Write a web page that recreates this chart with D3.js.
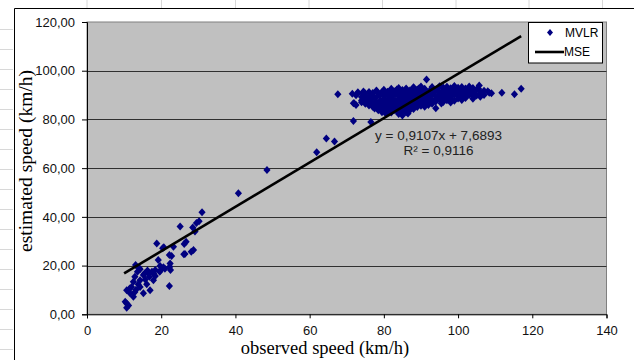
<!DOCTYPE html>
<html><head><meta charset="utf-8">
<script src="https://cdn.jsdelivr.net/npm/d3@7"></script>
<style>body{margin:0;background:#fff;}</style>
</head><body>
<svg id="c" width="634" height="360"></svg>
<script>
// ---- data ----
const xTicks = [0, 20, 40, 60, 80, 100, 120, 140];
const yTicks = [0, 20, 40, 60, 80, 100, 120];
const yTickLabels = ["0,00", "20,00", "40,00", "60,00", "80,00", "100,00", "120,00"];
const xTitle = "observed speed (km/h)";
const yTitle = "estimated speed (km/h)";
const seriesNames = ["MVLR", "MSE"];
const trendSlope = 0.9107;
const trendIntercept = 7.6893;
const trendRange = [10, 117];
const equationLines = ["y = 0,9107x + 7,6893", "R\u00B2 = 0,9116"];

// low speed cluster [observed, estimated]
const lowSpeedPoints = [
  [10.7,2.7],[11.2,3.6],[10.7,4.4],[10.3,5.2],[12.5,7.2],[11.6,8.6],[12.9,9.2],[10.7,9.9],
  [15.2,8.6],[17.0,9.9],[12.0,11.2],[14.3,11.2],[13.8,12.3],[16.1,12.3],[12.5,13.4],[14.3,14.0],
  [15.7,14.3],[17.9,14.0],[12.9,15.4],[16.8,15.4],[18.4,15.7],[15.2,16.1],[16.6,16.8],[15.5,16.8],
  [13.6,17.5],[17.5,17.5],[19.6,17.5],[19.7,17.9],[18.4,18.2],[14.3,18.5],[14.1,18.9],[22.5,18.2],
  [20.6,19.3],[22.3,19.5],[19.7,19.8],[13.1,20.2],[22.4,20.9],[19.2,22.3],[22.2,11.6],[22.8,23.9],
  [22.2,24.3],[26.4,24.8],[26.1,24.7],[28.1,25.7],[28.7,26.4],[20.4,27.1],[20.7,27.5],[23.3,27.7],
  [18.8,29.1],[26.2,28.9],[26.7,29.8],[29.1,34.0],[28.5,35.6],[25.1,36.0],[29.5,37.5],[30.2,38.2],
  [31.0,41.9],[11.5,10.6],[13.2,10.1],[16.3,18.0],[21.0,18.7],[18.0,16.6]
];
// transition points
const midSpeedPoints = [
  [40.8,49.7],[48.5,59.2],[61.9,66.5],[64.5,72.2],[66.7,70.9],[71.8,79.4],[76.5,78.9],[67.6,90.3],[71.8,86.6]
];
// high speed cluster
const highSpeedPoints = [
  [88,93.2],[90,93.5],[93,93.3],[95,93.6],[97,93.4],[99,93.7],[101,93.3],[103,93.5],[105.7,93.9],
  [82,92.6],[84,92.9],[86,92.7],[88,93.0],[89.5,92.8],[91,92.6],[93,92.9],[94.5,92.7],[96,93.1],[98,92.8],[100,93.0],[102,92.7],[104,92.9],[105.5,92.6],
  [78,91.9],[80,92.2],[82,92.0],[83.5,92.3],[85,92.1],[87,91.9],[89,92.3],[91,92.1],[92.5,91.8],[94,92.2],[96,92.0],[97.5,92.3],[99,91.9],[101,92.2],[103,92.0],[105,92.3],[107,91.8],
  [73,91.2],[74.5,91.5],[76,91.3],[78,91.6],[79.5,91.2],[81,91.4],[83,91.6],[85,91.3],[86.5,91.5],[88,91.2],[90,91.6],[92,91.3],[93.5,91.5],[95,91.2],[97,91.4],[99,91.6],[100.5,91.3],[102,91.5],[104,91.2],[106,91.4],[108,91.6],
  [71.5,90.5],[73,90.8],[75,90.6],[77,90.9],[79,90.5],[80.5,90.7],[82,90.9],[84,90.6],[86,90.8],[88,90.5],[89.5,90.9],[91,90.6],[93,90.8],[95,90.5],[96.5,90.7],[98,90.9],[100,90.6],[102,90.8],[104,90.5],[106,90.7],[109,90.8],
  [72.5,89.9],[74.5,90.2],[77,89.8],[79,90.1],[81,89.9],[83,90.2],[85,90.0],[87,89.8],[89,90.1],[91,89.9],[93,90.2],[95,89.8],[97,90.0],[99,90.2],[101,89.9],[103,90.1],[105,89.8],[107,90.0],
  [74,89.2],[76,89.5],[78,89.1],[80,89.4],[82,89.2],[84,89.5],[86,89.3],[88,89.1],[90,89.4],[92,89.2],[94,89.5],[96,89.3],[98,89.1],[100,89.4],[102,89.2],[104,89.5],[106,89.3],
  [75,88.5],[77.5,88.8],[80,88.4],[82,88.7],[84,88.5],[86,88.8],[88,88.4],[90,88.6],[92,88.8],[94,88.5],[96,88.7],[98,88.4],[100,88.6],[102,88.8],[104,88.5],
  [74,87.8],[76.5,88.1],[79,87.7],[81,88.0],[83,87.8],[85,88.1],[87,87.9],[89,87.7],[91,88.0],[93,87.8],[95,88.1],[97,87.9],[99,87.7],[101,88.0],
  [74,87.1],[75.5,87.4],[78,87.0],[80,87.3],[82,87.1],[84,87.4],[86,87.2],[88,87.0],[90,87.3],[92,87.1],[94,87.4],[96,87.2],[98,87.0],
  [72,86.6],[75,86.4],[77,86.7],[79,86.3],[81,86.6],[83,86.4],[85,86.7],[87,86.5],[89,86.3],[91,86.6],[93,86.4],[95.5,86.5],
  [72.5,85.9],[76,85.7],[78,86.0],[80,85.6],[82,85.9],[84,85.7],[86,86.0],[88,85.8],[90,85.6],[92,85.9],
  [77,85.2],[79,84.9],[81,85.2],[83,85.0],[85,85.3],[87,84.9],[89,85.1],[91,85.2],
  [77.5,84.5],[80,84.2],[82,84.5],[84,84.3],[86,84.6],[88,84.3],[94,84.6],
  [78.5,83.8],[81,83.5],[83,83.8],[85,83.6],[87,83.8],
  [79.5,83.0],[82,82.8],[84,83.1],[86,82.9],
  [80.5,82.4],[84,82.2],[86.5,82.4],[85,81.6],
  [91.5,96.4],[108.4,91.0],[111.8,91.0],[115.2,90.3],[117.0,92.6]
];

// ---- drawing ----
const svg = d3.select("#c");
const W = 634, H = 360;
const x = d3.scaleLinear().domain([0, 140]).range([87, 606.5]);
const y = d3.scaleLinear().domain([0, 120]).range([314.3, 22]);

// worksheet cell lines outside the chart
const sheetCols = [87, 161.5, 235.5, 309, 382.5, 456, 529, 602.5];
svg.selectAll(".col").data(sheetCols).enter().append("line")
  .attr("x1", d => d).attr("x2", d => d).attr("y1", 0).attr("y2", 8)
  .attr("stroke", "#d8d8d8").attr("stroke-width", 1);
const sheetRows = d3.range(29.5, H, 20);
svg.selectAll(".row").data(sheetRows).enter().append("line")
  .attr("x1", 0).attr("x2", 13).attr("y1", d => d).attr("y2", d => d)
  .attr("stroke", "#d8d8d8").attr("stroke-width", 1);

// chart frame
svg.append("path").attr("d", `M14.5,${H}V8.5H${W}`)
  .attr("fill", "none").attr("stroke", "#000").attr("stroke-width", 1);

// plot area
svg.append("rect").attr("x", x(0)).attr("y", y(120))
  .attr("width", x(140) - x(0)).attr("height", y(0) - y(120))
  .attr("fill", "#c0c0c0").attr("stroke", "#808080").attr("stroke-width", 1);

// gridlines
svg.append("g").selectAll("line").data(yTicks.filter(t => t > 0 && t < 120)).enter().append("line")
  .attr("x1", x(0)).attr("x2", x(140))
  .attr("y1", d => Math.round(y(d)) + 0.5).attr("y2", d => Math.round(y(d)) + 0.5)
  .attr("stroke", "#303030").attr("stroke-width", 1);

// axes
const fontSans = "'Liberation Sans', Arial, sans-serif";
const yAxis = svg.append("g").attr("transform", `translate(${x(0)},0)`)
  .call(d3.axisLeft(y).tickValues(yTicks).tickSize(5).tickPadding(7)
    .tickFormat((d, i) => yTickLabels[i]));
const xAxis = svg.append("g").attr("transform", `translate(0,${y(0)})`)
  .call(d3.axisBottom(x).tickValues(xTicks).tickSize(4).tickPadding(7)
    .tickFormat(d => String(d)));
[yAxis, xAxis].forEach(g => {
  g.select(".domain").attr("stroke", "#000");
  g.selectAll(".tick line").attr("stroke", "#000");
  g.selectAll("text").attr("font-family", fontSans).attr("font-size", "13px").attr("fill", "#111");
});

// axis titles
const fontSerif = "'Liberation Serif', 'Times New Roman', serif";
svg.append("text").attr("x", 325).attr("y", 354).attr("text-anchor", "middle")
  .attr("font-family", fontSerif).attr("font-size", "18.5px").attr("fill", "#000").text(xTitle);
svg.append("text").attr("transform", "translate(32,161) rotate(-90)").attr("text-anchor", "middle")
  .attr("font-family", fontSerif).attr("font-size", "19.5px").attr("fill", "#000").text(yTitle);

// scatter points
const diamond = "M0,-4L3.6,0L0,4L-3.6,0Z";
const allPoints = lowSpeedPoints.concat(midSpeedPoints, highSpeedPoints);
svg.append("g").selectAll("path").data(allPoints).enter().append("path")
  .attr("d", diamond)
  .attr("transform", d => `translate(${x(d[0])},${y(d[1])})`)
  .attr("fill", "#000080");

// trend line (MSE)
svg.append("line")
  .attr("x1", x(trendRange[0])).attr("y1", y(trendSlope * trendRange[0] + trendIntercept))
  .attr("x2", x(trendRange[1])).attr("y2", y(trendSlope * trendRange[1] + trendIntercept))
  .attr("stroke", "#000").attr("stroke-width", 2.6);

// equation
svg.append("text").attr("x", 438.5).attr("y", 139.8).attr("text-anchor", "middle")
  .attr("font-family", fontSans).attr("font-size", "13.5px").attr("fill", "#222").text(equationLines[0]);
svg.append("text").attr("x", 438.5).attr("y", 155).attr("text-anchor", "middle")
  .attr("font-family", fontSans).attr("font-size", "13.5px").attr("fill", "#222").text(equationLines[1]);

// legend
const lg = svg.append("g");
lg.append("rect").attr("x", 528.5).attr("y", 22.5).attr("width", 74).attr("height", 40.5)
  .attr("fill", "#fff").attr("stroke", "#000").attr("stroke-width", 1);
lg.append("path").attr("d", "M0,-3.5L3,0L0,3.5L-3,0Z").attr("transform", "translate(550,32.5)").attr("fill", "#000080");
lg.append("text").attr("x", 565).attr("y", 36.8).attr("font-family", fontSans).attr("font-size", "12px")
  .attr("fill", "#000").text(seriesNames[0]);
lg.append("line").attr("x1", 535).attr("x2", 564).attr("y1", 52).attr("y2", 52)
  .attr("stroke", "#000").attr("stroke-width", 2.6);
lg.append("text").attr("x", 564).attr("y", 56.3).attr("font-family", fontSans).attr("font-size", "12px")
  .attr("fill", "#000").text(seriesNames[1]);
</script>
</body></html>
